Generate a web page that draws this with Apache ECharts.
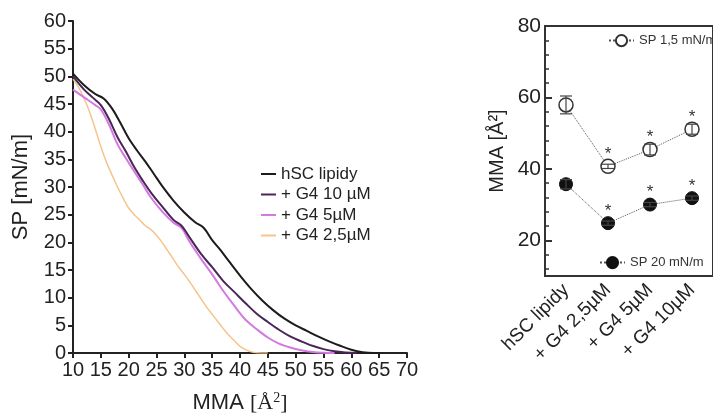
<!DOCTYPE html>
<html>
<head>
<meta charset="utf-8">
<script src="https://cdn.jsdelivr.net/npm/echarts@6/dist/echarts.min.js"></script>
<style>
  html, body { margin: 0; padding: 0; background: #fff; }
  #chart { width: 713px; height: 419px; }
</style>
</head>
<body>
<div id="chart"></div>
<script>
// isotermy: [MMA, SP]
const hscLipidy = [[10,50.5],[12,48.4],[14,46.8],[15.5,46],[17,44.2],[18.5,41.6],[20,38.8],[21.5,36.6],[23,34.6],[24.5,32.4],[26,30.2],[28,27.6],[30,25.4],[32,23.6],[33.5,22.6],[35,20.4],[36.5,18.6],[38,16.6],[40,14],[42,11.6],[44,9.5],[46,7.7],[48,6.2],[50,5],[52,4],[54,3],[56,2.1],[58,1.3],[60,0.6],[62,0.15],[64,0],[65,0]];
const g4_10 = [[10,50],[12,47.6],[13.5,46.2],[15,44.8],[16.5,42.2],[18,39],[19.5,36.4],[21,33.6],[22.5,31.2],[24,29],[26,26.5],[28,24.1],[29.5,23],[31,20.8],[33,17.9],[35,15.5],[37,13],[39,11],[41,9],[43,7.1],[45,5.6],[47,4.2],[49,3],[51,2.1],[53,1.3],[55,0.7],[57,0.3],[59,0.1],[61,0]];
const g4_5 = [[10,47.6],[12,46.2],[14,44.8],[15,44],[16.5,41.2],[18,37.7],[19.5,35.2],[21,32.8],[22.5,30.5],[24,28.1],[26,25.6],[28,23.6],[29.5,22.6],[31,20],[33,17],[35,14.2],[37,11.2],[39,8.5],[41,6],[43,4.3],[45,2.8],[47,1.7],[49,1],[51,0.5],[53,0.2],[55,0.05],[57,0]];
const g4_25 = [[10,49.5],[11,48],[12,46],[13,43.5],[14,40.5],[15,37.3],[16,34.5],[17,32.2],[18,30],[19,28],[20,26.2],[21,25],[22,24],[23,23],[24,22.3],[25,21.3],[26,20],[27,18.5],[28,17],[29,15.5],[30,14.2],[31,12.8],[32,11.3],[33,9.8],[34,8.3],[35,7],[36,5.7],[37,4.4],[38,3.2],[39,2.2],[40,1.2],[41,0.6],[42,0.2],[43,0.05],[45,0]];

// MMA pri danom tlaku
const groups = ['hSC lipidy', '+ G4 2,5µM', '+ G4 5µM', '+ G4 10µM'];
const mma15 = [57.9, 40.7, 45.4, 51.1];
const mma15Err = [2.5, 0.6, 1.5, 1.4];
const mma20 = [35.7, 24.8, 30.0, 31.8];
const mma20Err = [1.3, 0.6, 0.6, 0.6];
const signif = [false, true, true, true];
const rightLabels = [20, 40, 60, 80];
const rightMinor = [12, 16, 24, 28, 32, 36, 44, 48, 52, 56, 64, 68, 72, 76];

const FONT = 'Liberation Sans, Arial, sans-serif';
const AX = '#222';

const myChart = echarts.init(document.getElementById('chart'));

const errorBars = (means, errs) => ({
  type: 'custom',
  xAxisIndex: 1,
  yAxisIndex: 1,
  z: 5,
  silent: true,
  data: means.map((m, i) => [i, m - errs[i], m + errs[i]]),
  renderItem: (params, api) => {
    const lo = api.coord([api.value(0), api.value(1)]);
    const hi = api.coord([api.value(0), api.value(2)]);
    const w = 6;
    const st = { stroke: '#444', lineWidth: 1.2 };
    return {
      type: 'group',
      children: [
        { type: 'line', shape: { x1: lo[0], y1: lo[1], x2: hi[0], y2: hi[1] }, style: st },
        { type: 'line', shape: { x1: lo[0] - w, y1: lo[1], x2: lo[0] + w, y2: lo[1] }, style: st },
        { type: 'line', shape: { x1: hi[0] - w, y1: hi[1], x2: hi[0] + w, y2: hi[1] }, style: st },
      ],
    };
  },
});

const stars = means => ({
  type: 'custom',
  xAxisIndex: 1,
  yAxisIndex: 1,
  silent: true,
  data: means.map((m, i) => [i, m]).filter((d, i) => signif[i]),
  renderItem: (params, api) => {
    const p = api.coord([api.value(0), api.value(1)]);
    return {
      type: 'text',
      x: p[0],
      y: p[1] - 12,
      style: { text: '*', fill: '#333', font: '17px ' + FONT, align: 'center', verticalAlign: 'middle' },
    };
  },
});

const curve = (name, data, color, width) => ({
  name,
  type: 'line',
  data,
  symbol: 'none',
  smooth: 0.35,
  lineStyle: { color, width },
  itemStyle: { color },
});

const option = {
  animation: false,
  textStyle: { fontFamily: FONT },
  grid: [
    { left: 73, top: 21, width: 334, height: 335 },
    { left: 545, top: 26, width: 168, height: 250, show: true, borderColor: '#333', borderWidth: 2 },
  ],
  legend: [
    {
      data: ['hSC lipidy', '+ G4 10 µM', '+ G4 5µM', '+ G4 2,5µM'],
      orient: 'vertical',
      left: 256,
      top: 160,
      icon: 'rect',
      itemWidth: 15,
      itemHeight: 2,
      itemGap: 2.5,
      textStyle: { fontSize: 17, color: AX, fontFamily: FONT, lineHeight: 18 },
    },
    {
      data: ['SP 1,5 mN/m'],
      left: 603,
      top: 29,
      itemWidth: 25,
      itemHeight: 14,
      textStyle: { fontSize: 13, color: '#333', fontFamily: FONT },
    },
    {
      data: ['SP 20 mN/m'],
      left: 594,
      top: 251,
      itemWidth: 25,
      itemHeight: 14,
      textStyle: { fontSize: 13, color: '#333', fontFamily: FONT },
    },
  ],
  xAxis: [
    {
      gridIndex: 0,
      type: 'value',
      min: 10,
      max: 70,
      interval: 5,
      name: 'MMA {s|[Å}{sup|2}{s|]}',
      nameLocation: 'middle',
      nameGap: 38,
      nameTextStyle: {
        fontSize: 22,
        color: AX,
        rich: {
          s: { fontSize: 22, fontFamily: 'Liberation Serif, serif', color: AX },
          sup: { fontSize: 14, fontFamily: 'Liberation Serif, serif', color: AX, verticalAlign: 'top', padding: [0, 0, 10, 0] },
        },
      },
      axisLine: { lineStyle: { color: AX, width: 2 } },
      axisTick: { length: 5, lineStyle: { color: AX, width: 2 } },
      axisLabel: { fontSize: 20, color: AX, margin: 7 },
      splitLine: { show: false },
    },
    {
      gridIndex: 1,
      type: 'category',
      data: groups,
      boundaryGap: true,
      axisLine: { lineStyle: { color: '#333', width: 2 } },
      axisTick: { inside: true, alignWithLabel: true, length: 6, lineStyle: { color: '#333', width: 2 } },
      axisLabel: { rotate: 45, fontSize: 19, color: AX, margin: 11, interval: 0 },
    },
  ],
  yAxis: [
    {
      gridIndex: 0,
      type: 'value',
      min: 0,
      max: 60,
      interval: 5,
      name: 'SP [mN/m]',
      nameLocation: 'middle',
      nameGap: 41,
      nameTextStyle: { fontSize: 22, color: AX },
      axisLine: { show: true, lineStyle: { color: AX, width: 2 } },
      axisTick: { show: true, length: 5, lineStyle: { color: AX, width: 2 } },
      axisLabel: { fontSize: 20, color: AX, margin: 7 },
      splitLine: { show: false },
    },
    {
      gridIndex: 1,
      type: 'value',
      min: 10,
      max: 80,
      name: 'MMA [Å²]',
      nameLocation: 'middle',
      nameGap: 38,
      nameTextStyle: { fontSize: 20, color: AX },
      axisLine: { show: true, lineStyle: { color: '#333', width: 2 } },
      axisTick: { show: true, inside: true, length: 7, customValues: rightLabels, lineStyle: { color: '#333', width: 2 } },
      axisLabel: { fontSize: 21, color: AX, margin: 4, customValues: rightLabels },
      splitLine: { show: false },
    },
    {
      gridIndex: 1,
      type: 'value',
      min: 10,
      max: 80,
      position: 'left',
      axisLine: { show: false },
      axisTick: { show: true, inside: true, length: 4, customValues: rightMinor, lineStyle: { color: '#333', width: 1.5 } },
      axisLabel: { show: false, customValues: rightMinor },
      splitLine: { show: false },
    },
  ],
  series: [
    curve('+ G4 2,5µM', g4_25, '#f6c48c', 1.5),
    curve('+ G4 5µM', g4_5, '#d479e0', 2),
    curve('+ G4 10 µM', g4_10, '#4a2658', 2),
    curve('hSC lipidy', hscLipidy, '#1c1c1c', 2),
    {
      name: 'SP 1,5 mN/m',
      type: 'line',
      xAxisIndex: 1,
      yAxisIndex: 1,
      data: mma15,
      symbol: 'circle',
      symbolSize: 14,
      lineStyle: { color: '#555', width: 1, type: 'dotted' },
      itemStyle: { color: '#fff', borderColor: '#333', borderWidth: 1.5 },
    },
    {
      name: 'SP 20 mN/m',
      type: 'line',
      xAxisIndex: 1,
      yAxisIndex: 1,
      data: mma20,
      symbol: 'circle',
      symbolSize: 13,
      lineStyle: { color: '#555', width: 1, type: 'dotted' },
      itemStyle: { color: '#111', borderColor: '#111', borderWidth: 1 },
    },
    errorBars(mma15, mma15Err),
    errorBars(mma20, mma20Err),
    stars(mma15),
    stars(mma20),
  ],
};

myChart.setOption(option);
</script>
</body>
</html>
